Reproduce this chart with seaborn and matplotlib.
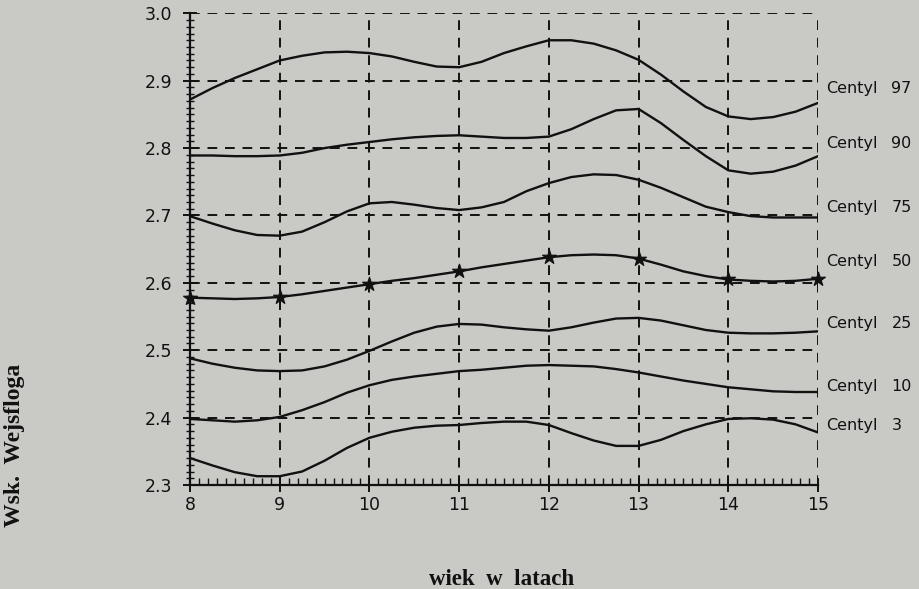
import numpy as np
import pandas as pd
import matplotlib
matplotlib.use("Agg")
import matplotlib.pyplot as plt
from matplotlib.ticker import MultipleLocator
import seaborn as sns

ages = [8, 8.25, 8.5, 8.75, 9, 9.25, 9.5, 9.75, 10, 10.25, 10.5, 10.75, 11, 11.25, 11.5,
        11.75, 12, 12.25, 12.5, 12.75, 13, 13.25, 13.5, 13.75, 14, 14.25, 14.5, 14.75, 15]
c97 = [2.872, 2.889, 2.904, 2.917, 2.930, 2.937, 2.942, 2.943, 2.941, 2.936, 2.928, 2.921, 2.920, 2.928, 2.941,
       2.951, 2.960, 2.960, 2.955, 2.945, 2.931, 2.909, 2.884, 2.861, 2.847, 2.843, 2.846, 2.854, 2.867]
c90 = [2.789, 2.789, 2.788, 2.788, 2.789, 2.793, 2.800, 2.805, 2.809, 2.813, 2.816, 2.818, 2.819, 2.817, 2.815,
       2.815, 2.817, 2.828, 2.843, 2.856, 2.858, 2.837, 2.812, 2.788, 2.767, 2.762, 2.765, 2.774, 2.788]
c75 = [2.699, 2.688, 2.678, 2.671, 2.670, 2.676, 2.690, 2.706, 2.718, 2.720, 2.716, 2.711, 2.708, 2.712, 2.720,
       2.736, 2.748, 2.757, 2.761, 2.760, 2.753, 2.741, 2.727, 2.713, 2.705, 2.699, 2.697, 2.697, 2.697]
c50 = [2.578, 2.577, 2.576, 2.577, 2.579, 2.583, 2.588, 2.593, 2.598, 2.603, 2.607, 2.612, 2.617, 2.623, 2.628,
       2.633, 2.638, 2.641, 2.642, 2.641, 2.636, 2.627, 2.617, 2.610, 2.605, 2.603, 2.602, 2.603, 2.606]
c25 = [2.488, 2.480, 2.474, 2.470, 2.469, 2.470, 2.476, 2.486, 2.499, 2.513, 2.526, 2.535, 2.539, 2.538, 2.534,
       2.531, 2.529, 2.534, 2.541, 2.547, 2.548, 2.544, 2.537, 2.530, 2.526, 2.525, 2.525, 2.526, 2.528]
c10 = [2.398, 2.396, 2.394, 2.396, 2.401, 2.411, 2.423, 2.437, 2.448, 2.456, 2.461, 2.465, 2.469, 2.471, 2.474,
       2.477, 2.478, 2.477, 2.476, 2.472, 2.467, 2.461, 2.455, 2.450, 2.445, 2.442, 2.439, 2.438, 2.438]
c3 = [2.340, 2.329, 2.319, 2.313, 2.313, 2.320, 2.336, 2.355, 2.370, 2.379, 2.385, 2.388, 2.389, 2.392, 2.394,
      2.394, 2.389, 2.377, 2.366, 2.358, 2.358, 2.367, 2.380, 2.390, 2.398, 2.399, 2.397, 2.390, 2.378]

centyle = ["97", "90", "75", "50", "25", "10", "3"]
label_values = [2.889, 2.807, 2.712, 2.631, 2.539, 2.446, 2.389]
x_ticks = [8, 9, 10, 11, 12, 13, 14, 15]
y_ticks = [2.3, 2.4, 2.5, 2.6, 2.7, 2.8, 2.9, 3.0]

series = {"97": c97, "90": c90, "75": c75, "50": c50, "25": c25, "10": c10, "3": c3}
df = pd.concat([pd.DataFrame({"wiek": ages, "wsk": v, "centyl": k}) for k, v in series.items()],
               ignore_index=True)

bg = "#c9c9c6"
ink = "#111111"
sns.set_theme(style="white")
plt.rcParams["font.family"] = ["DejaVu Sans"]

fig = plt.figure(figsize=(9.19, 5.89), dpi=100, facecolor=bg)
ax = fig.add_axes([0.2067, 0.1766, 0.6834, 0.8008])
ax.set_facecolor(bg)

# dashed grid
for xv in x_ticks[1:]:
    ax.axvline(xv, color=ink, lw=1.4, ls=(0, (5, 4)), zorder=1)
for yv in y_ticks[1:]:
    ax.axhline(yv, color=ink, lw=1.4, ls=(0, (5, 4)), zorder=1)

sns.lineplot(data=df, x="wiek", y="wsk", hue="centyl", units="centyl", estimator=None,
             palette=[ink] * 7, lw=1.7, legend=False, ax=ax, zorder=3, sort=True)

d50 = df[(df["centyl"] == "50") & (df["wiek"] % 1 == 0)]
sns.scatterplot(data=d50, x="wiek", y="wsk", marker="*", s=110, color=ink,
                edgecolor=ink, ax=ax, zorder=4, legend=False, clip_on=False)

ax.set_xlim(8, 15)
ax.set_ylim(2.3, 3.0)
ax.set_xticks(x_ticks)
ax.set_yticks(y_ticks)
ax.set_xticklabels([str(v) for v in x_ticks])
ax.set_yticklabels([f"{v:.1f}" for v in y_ticks])
ax.xaxis.set_minor_locator(MultipleLocator(0.1))
ax.yaxis.set_minor_locator(MultipleLocator(0.01))
ax.tick_params(axis="both", which="major", direction="inout", length=10, width=1.4,
               colors=ink, labelsize=12.5)
ax.tick_params(axis="y", which="major", pad=8)
ax.tick_params(axis="x", which="major", pad=3)
ax.tick_params(axis="x", which="minor", direction="in", length=5, width=1.0, colors=ink)
ax.tick_params(axis="y", which="minor", direction="inout", length=6, width=1.0, colors=ink)
ax.tick_params(bottom=True, left=True, which="both")
for s in ["top", "right"]:
    ax.spines[s].set_visible(False)
for s in ["left", "bottom"]:
    ax.spines[s].set_color(ink)
    ax.spines[s].set_linewidth(1.6)
ax.set_xlabel("")
ax.set_ylabel("")

for c, v in zip(centyle, label_values):
    ax.text(1.013, v, "Centyl", transform=ax.get_yaxis_transform(), fontsize=11.5,
            va="center", ha="left", color=ink)
    ax.text(1.117, v, c, transform=ax.get_yaxis_transform(), fontsize=11.5,
            va="center", ha="left", color=ink)

fig.text(0.016, 0.2445, "Wsk.  Wejsfloga", rotation=90, ha="center", va="center",
         fontsize=17, fontweight="bold", family="Liberation Serif", color=ink)
fig.text(0.546, 0.0068, "wiek  w  latach", ha="center", va="baseline",
         fontsize=16.5, fontweight="bold", family="Liberation Serif", color=ink)

fig.savefig("out.png", dpi=100, facecolor=bg)
